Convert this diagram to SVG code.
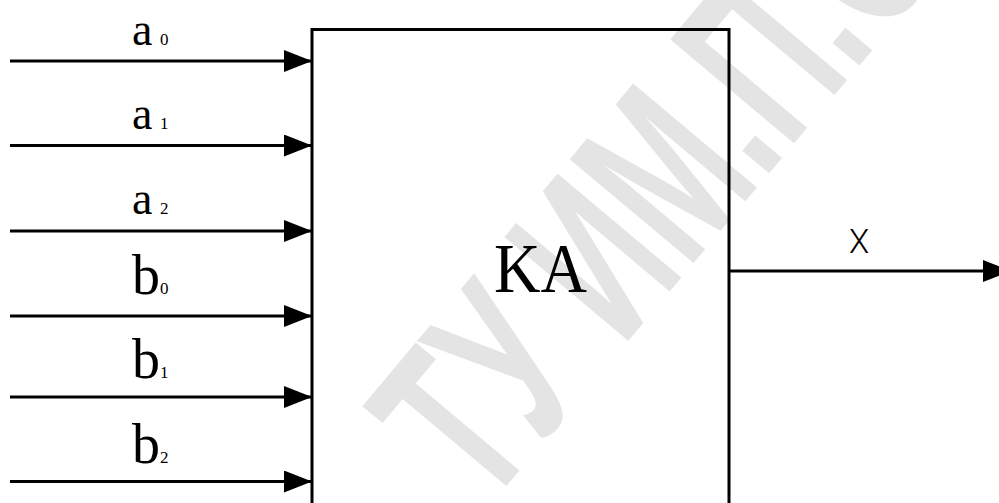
<svg xmlns="http://www.w3.org/2000/svg" width="999" height="503" viewBox="0 0 999 503">
<style>
.lbl{font-family:"Liberation Serif","Times New Roman",serif;fill:#000}
.sub{font-family:"Liberation Serif","Times New Roman",serif;fill:#000;font-size:17px}
.wire{stroke:#000;stroke-width:3;fill:none}
.wm{font-family:"Liberation Sans",Arial,sans-serif;font-weight:bold;fill:#e4e4e4}
</style>
<defs>
<marker id="ah" markerUnits="userSpaceOnUse" markerWidth="28" markerHeight="22" refX="28" refY="11" orient="auto">
<path d="M0,0 L28,11 L0,22 z" fill="#000"/>
</marker>
</defs>
<rect width="999" height="503" fill="#fff"/>
<g id="watermark">
<text class="wm" font-size="235" transform="translate(780,160) rotate(-50) scale(0.6,1)" x="-764" y="0">ТУ ИМ.П.О</text>
</g>
<g id="KA">
<path d="M312,503 V29.5 H729 V503" fill="none" stroke="#000" stroke-width="3"/>
<text class="lbl" x="494" y="292" font-size="70" textLength="93" lengthAdjust="spacingAndGlyphs">KA</text>
</g>
<g id="connectors">
<line class="wire" x1="10" y1="61" x2="312" y2="61" marker-end="url(#ah)"/>
<line class="wire" x1="10" y1="145.5" x2="312" y2="145.5" marker-end="url(#ah)"/>
<line class="wire" x1="10" y1="231" x2="312" y2="231" marker-end="url(#ah)"/>
<line class="wire" x1="10" y1="316" x2="312" y2="316" marker-end="url(#ah)"/>
<line class="wire" x1="10" y1="397" x2="312" y2="397" marker-end="url(#ah)"/>
<line class="wire" x1="10" y1="481.5" x2="312" y2="481.5" marker-end="url(#ah)"/>
<line class="wire" x1="729" y1="271" x2="1011" y2="271" marker-end="url(#ah)"/>
</g>
<g id="labels">
<text class="lbl" x="132" y="45" font-size="46">a</text><text class="sub" x="160" y="45">0</text>
<text class="lbl" x="132" y="129" font-size="46">a</text><text class="sub" x="160" y="129">1</text>
<text class="lbl" x="132" y="214" font-size="46">a</text><text class="sub" x="160" y="214">2</text>
<text class="lbl" x="132" y="294" font-size="56">b</text><text class="sub" x="160" y="294">0</text>
<text class="lbl" x="132" y="378" font-size="56">b</text><text class="sub" x="160" y="378">1</text>
<text class="lbl" x="132" y="463" font-size="56">b</text><text class="sub" x="160" y="463">2</text>
<text x="849" y="253" font-family="Roboto,'Liberation Sans',sans-serif" font-weight="300" font-size="33" fill="#000">X</text>
</g>
</svg>
